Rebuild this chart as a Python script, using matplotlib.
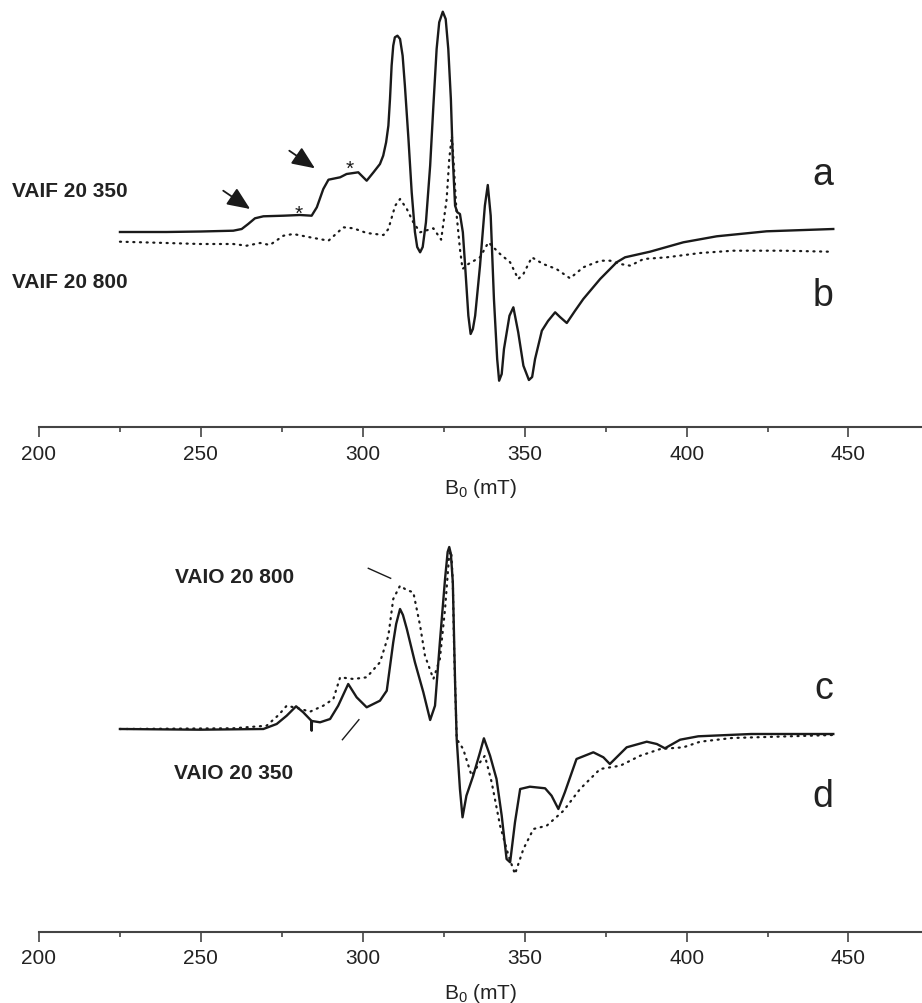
import matplotlib

matplotlib.use("Agg")
import matplotlib.pyplot as plt
from matplotlib.ticker import MultipleLocator

# ── EPR spectra, field B0 (mT) vs. derivative intensity (arbitrary units) ──
# top panel: VAIF 20 350 (a, solid) and VAIF 20 800 (b, dotted)
field_a = [225.0, 239.4, 250.0, 260.0, 262.6, 264.6, 266.7, 269.3, 275.5, 280.6,
           284.2, 285.8, 287.8, 289.4, 293.0, 295.0, 298.6, 301.2, 303.3, 305.3,
           306.3, 307.2, 307.9, 308.4, 308.9, 309.4, 309.9, 310.7, 311.5, 312.3,
           313.0, 314.1, 315.1, 316.1, 316.8, 317.7, 318.5, 319.5, 320.8, 321.8,
           322.8, 323.6, 324.7, 325.6, 326.4, 327.2, 327.8, 328.5, 329.2, 330.0,
           330.9, 331.6, 332.6, 333.3, 334.0, 334.7, 336.2, 337.7, 338.6, 339.5,
           340.5, 341.5, 342.1, 342.9, 343.6, 345.3, 346.5, 348.0, 349.6, 351.3,
           352.3, 353.2, 355.3, 357.2, 359.4, 360.9, 363.0, 365.5, 368.1, 373.3,
           378.4, 381.0, 388.7, 399.0, 409.3, 424.7, 445.3]
signal_a = [0.0, 0.0, 0.5, 1.3, 3.0, 8.0, 13.7, 15.7, 16.3, 17.0,
            16.3, 24.7, 43.0, 52.3, 54.7, 58.0, 59.7, 51.3, 59.7, 68.0,
            76.3, 89.7, 106.3, 133.0, 166.3, 186.3, 194.7, 196.3, 193.0, 176.3,
            146.3, 93.0, 39.7, 0.0, -15.0, -20.3, -15.0, 9.7, 66.3, 126.3,
            183.0, 209.7, 220.3, 213.0, 183.0, 133.0, 73.0, 26.3, 19.7, 18.0,
            -0.3, -33.7, -83.7, -102.0, -97.0, -83.7, -33.7, 26.3, 47.0, 16.3,
            -67.0, -127.0, -148.7, -142.0, -117.0, -83.7, -75.3, -100.3, -133.7, -148.0,
            -145.0, -127.0, -98.7, -89.0, -80.3, -85.0, -91.0, -79.0, -67.0, -47.0,
            -30.3, -25.3, -19.7, -10.3, -4.3, 0.7, 3.0]

field_b = [225.0, 239.4, 249.7, 260.0, 264.1, 268.3, 271.3, 275.5, 278.5, 283.7,
           289.4, 294.0, 297.1, 301.2, 306.4, 307.9, 310.0, 311.5, 313.6, 315.6,
           317.7, 321.8, 324.2, 325.9, 326.7, 327.5, 328.0, 329.0, 330.0, 330.8,
           332.6, 336.2, 338.8, 342.4, 345.5, 348.0, 349.6, 352.2, 355.7, 359.8,
           364.0, 368.1, 373.3, 376.4, 379.5, 382.6, 386.7, 393.9, 404.2, 414.4,
           429.9, 444.3]
signal_b = [-9.7, -11.0, -12.0, -12.0, -13.7, -11.0, -13.0, -3.7, -2.0, -5.3,
            -8.7, 4.7, 3.7, -1.0, -3.0, 3.0, 26.3, 33.0, 23.0, 9.7,
            -0.3, 3.7, -7.7, 33.0, 73.0, 96.3, 73.0, 16.3, -17.0, -37.0,
            -32.0, -25.3, -10.3, -22.0, -30.3, -47.0, -42.0, -25.3, -32.0, -37.0,
            -46.3, -35.3, -28.7, -28.7, -32.0, -33.7, -27.0, -25.3, -21.0, -18.7,
            -18.7, -19.7]

# bottom panel: VAIO 20 350 (c, solid) and VAIO 20 800 (d, dotted)
field_c = [225.0, 249.7, 269.3, 273.4, 276.5, 279.4, 281.6, 284.1, 284.2, 284.3,
           286.8, 289.9, 292.4, 295.5, 298.1, 301.2, 305.3, 307.4, 309.4, 310.3,
           311.5, 312.4, 313.6, 316.1, 318.7, 320.8, 322.3, 323.8, 325.4, 325.9,
           326.2, 326.7, 327.2, 327.8, 328.5, 329.0, 330.0, 330.8, 332.0, 334.1,
           336.2, 337.4, 339.3, 341.3, 342.9, 344.4, 345.5, 347.0, 348.6, 351.6,
           356.3, 358.3, 360.4, 362.4, 366.0, 371.2, 374.3, 376.3, 381.5, 387.7,
           390.8, 393.3, 398.0, 403.6, 420.0, 445.3]
signal_c = [3.0, 2.3, 3.0, 8.0, 16.3, 25.7, 19.7, 11.3, 1.3, 11.0,
            9.7, 13.0, 26.3, 48.0, 34.7, 24.7, 31.3, 41.3, 89.7, 108.0,
            123.0, 117.0, 103.0, 69.7, 39.7, 12.0, 26.3, 89.7, 153.0, 169.7,
            180.0, 185.0, 178.0, 149.7, 49.7, -7.0, -57.0, -85.3, -63.7, -43.7,
            -20.3, -6.3, -23.7, -47.0, -83.7, -127.0, -130.3, -90.3, -57.0, -54.7,
            -56.3, -63.7, -77.0, -60.3, -27.0, -20.3, -25.3, -32.0, -15.3, -9.7,
            -12.0, -16.3, -7.7, -4.3, -2.0, -2.0]

field_d = [225.0, 260.0, 270.3, 274.0, 276.5, 280.1, 283.7, 287.8, 290.9, 293.0,
           297.1, 301.2, 305.3, 307.9, 309.4, 311.5, 313.5, 315.6, 317.7, 319.2,
           321.8, 323.8, 325.4, 326.7, 327.3, 327.8, 328.2, 329.0, 331.0, 333.6,
           336.2, 337.7, 339.8, 342.4, 345.0, 347.0, 349.6, 352.7, 356.8, 362.0,
           367.1, 373.3, 379.5, 385.7, 391.9, 399.0, 404.2, 414.0, 445.3]
signal_d = [3.0, 3.7, 6.3, 17.0, 26.3, 23.7, 20.3, 26.3, 33.0, 54.7,
            53.0, 54.7, 69.7, 96.3, 133.0, 146.3, 142.0, 139.7, 106.3, 76.3,
            53.0, 73.0, 123.0, 178.0, 181.0, 149.7, 83.0, -7.0, -17.0, -43.7,
            -30.3, -23.7, -50.3, -93.7, -123.7, -142.0, -117.0, -97.0, -93.7, -78.7,
            -57.0, -37.0, -33.7, -23.7, -17.0, -15.3, -9.7, -6.0, -3.0]

xticks_major = [200, 250, 300, 350, 400, 450]

plt.rcParams["font.family"] = ["Liberation Sans", "DejaVu Sans"]
plt.rcParams["mathtext.fontset"] = "custom"
plt.rcParams["mathtext.rm"] = "Liberation Sans"
plt.rcParams["mathtext.it"] = "Liberation Sans:italic"

W, H = 922, 1004
fig = plt.figure(figsize=(W / 100, H / 100), dpi=100)
fig.patch.set_facecolor("white")

ink = "#1a1a1a"
axis_col = "#444444"


def fx(px):
    return px / W


def fy(py):
    return 1 - py / H


# axes boxes: B=200 at x=39 px, axis line at y=428 (top) / 933 (bottom)
ax_top = fig.add_axes([fx(39), fy(428.3), 1 - fx(39), 428.3 / H])
ax_bot = fig.add_axes([fx(39), fy(932.7), 1 - fx(39), (932.7 - 500) / H])
ax_top.set_ylim(-195.3, 233)
ax_bot.set_ylim(-199.7, 233)

ax_top.plot(field_a, signal_a, color=ink, lw=1.7, solid_joinstyle="round")
ax_top.plot(field_b, signal_b, color=ink, lw=1.6, linestyle=(0, (0.5, 2.5)),
            dash_capstyle="round")
ax_bot.plot(field_c, signal_c, color=ink, lw=1.7, solid_joinstyle="round")
ax_bot.plot(field_d, signal_d, color=ink, lw=1.6, linestyle=(0, (0.5, 2.5)),
            dash_capstyle="round")

for ax in (ax_top, ax_bot):
    ax.set_xlim(200, 472.7)
    ax.set_facecolor("none")
    for side in ("left", "right", "top"):
        ax.spines[side].set_visible(False)
    ax.spines["bottom"].set_color(axis_col)
    ax.spines["bottom"].set_linewidth(1.5)
    ax.set_yticks([])
    ax.set_xticks(xticks_major)
    ax.xaxis.set_minor_locator(MultipleLocator(25))
    ax.tick_params(axis="x", which="major", length=7.2, width=1.2, color=axis_col,
                   labelsize=15, labelcolor="#222222", pad=4.5)
    ax.tick_params(axis="x", which="minor", length=3.6, width=1.2, color=axis_col)
    ax.set_xlabel("B$_{\\mathrm{0}}$ (mT)", fontsize=15, color="#222222", labelpad=10)

# ── top panel annotations ──
arrow_kw = dict(arrowstyle="-|>,head_length=0.7,head_width=0.3", color=ink,
                lw=1.3, mutation_scale=20, shrinkA=0, shrinkB=0)
ax_top.annotate("", xy=(265.2, 23.0), xytext=(256.9, 41.3), arrowprops=arrow_kw)
ax_top.annotate("", xy=(285.2, 63.7), xytext=(277.3, 81.3), arrowprops=arrow_kw)
ax_top.text(280.1, 13.0, "*", fontsize=15, ha="center", va="baseline", color=ink)
ax_top.text(296.1, 58.3, "*", fontsize=15, ha="center", va="baseline", color=ink)

label_kw = dict(fontsize=15, fontweight="bold", ha="center", va="baseline", color="#222222")
fig.text(fx(70), fy(197.3), "VAIF 20 350", **label_kw)
fig.text(fx(70), fy(288.3), "VAIF 20 800", **label_kw)
fig.text(fx(234.5), fy(583.3), "VAIO 20 800", **label_kw)
fig.text(fx(233.7), fy(779.3), "VAIO 20 350", **label_kw)

# ── bottom panel pointer lines ──
ax_bot.plot([301.7, 308.6], [163.7, 153.7], color=ink, lw=1.0)
ax_bot.plot([293.7, 298.8], [-7.7, 12.3], color=ink, lw=1.0)

letter_kw = dict(fontsize=27, ha="right", va="baseline", color="#222222")
fig.text(fx(833), fy(185), "a", **letter_kw)
fig.text(fx(833), fy(306), "b", **letter_kw)
fig.text(fx(833), fy(699), "c", **letter_kw)
fig.text(fx(833), fy(807), "d", **letter_kw)

fig.savefig("out.png", dpi=100, facecolor="white")
